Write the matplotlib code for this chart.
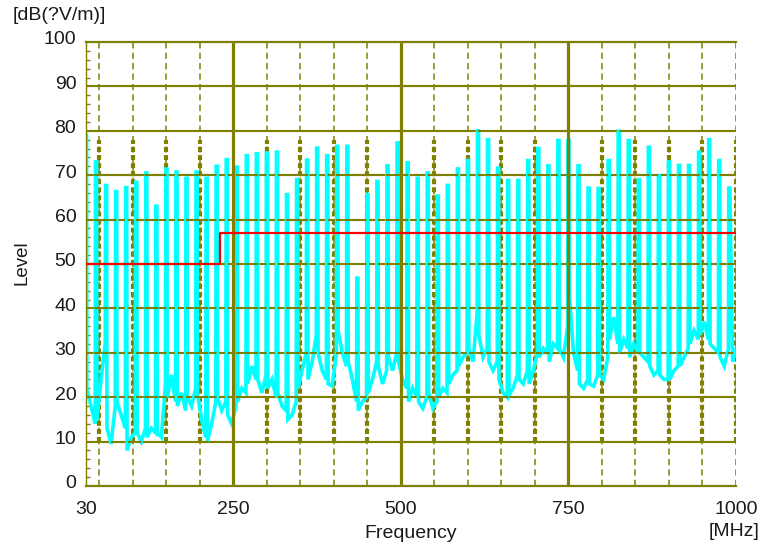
import matplotlib
matplotlib.use("Agg")
import matplotlib.pyplot as plt
from matplotlib.ticker import MultipleLocator
from matplotlib.transforms import ScaledTranslation

# harmonic comb: frequency of each emission line (MHz) and its peak level (dB)
HARM_MHZ = [30, 45, 60, 75, 90, 105, 120, 135, 150, 165, 180, 195, 210, 225,
            240, 255, 270, 285, 300, 315, 330, 345, 360, 375, 390, 405, 420,
            435, 450, 465, 480, 495, 510, 525, 540, 555, 570, 585, 600, 615,
            630, 645, 660, 675, 690, 705, 720, 735, 750, 765, 780, 795, 810,
            825, 840, 855, 870, 885, 900, 915, 930, 945, 960, 975, 990]
PEAK_DB = [79, 73, 67.7, 66.3, 67.2, 68.4, 70.5, 63, 71.4, 70.7, 69.3, 70.7,
           69.3, 72, 73.5, 71.8, 74.4, 74.8, 75, 75.2, 65.6, 69, 73.4, 76.1,
           74.4, 76.5, 76.5, 46.8, 65.6, 68.6, 72.1, 77.3, 72.8, 69.3, 70.5,
           65.3, 67.7, 71.4, 73.3, 80, 78, 71.6, 68.8, 68.8, 73.3, 76, 72.1,
           77.8, 77.8, 72.1, 67.1, 67, 73.3, 79.9, 77.8, 69, 76.3, 69.9, 73,
           72.2, 72.2, 75.2, 78, 73.3, 67.1]

# noise floor between two lines: just after a line, mid-gap, just before the next
FLOOR_A = [22, 15, 13, 19, 8, 12, 11, 12, 20, 18, 20, 21, 10, 20, 16, 19,
           23, 24, 22, 21, 15, 22, 24, 30, 23, 35, 28, 17, 21, 27, 29, 28,
           19, 19, 21, 20, 23, 27, 31, 34, 28, 24, 20.5, 24, 23, 29, 28, 31,
           43, 23, 23, 25, 33, 30, 29, 30, 27, 25, 24, 27, 32, 34, 32, 29]
FLOOR_B = [18, 24, 9.5, 16, 11, 10, 13, 11, 25, 21, 18, 15, 14, 17, 14, 22,
           27, 21, 24, 18, 16, 26, 28, 26, 22.5, 30, 24, 19, 24, 23, 26, 24,
           22, 17.5, 17.5, 22, 25, 29, 28, 29, 26, 21, 22, 23, 26, 31, 32, 29,
           30, 22, 22.5, 24, 38, 33, 32, 29, 25, 24, 26, 29, 35, 37, 31, 27]
FLOOR_C = [14, 32, 18, 13, 12, 13, 12, 23, 19, 17, 22, 11, 19, 19, 18, 21,
           24, 25, 20, 17, 19, 30, 34, 24, 30, 27, 19, 20, 28, 26, 30, 22,
           20, 20, 19, 21, 26, 30, 39, 31, 28, 20, 25, 26, 30, 30, 31, 36,
           26, 24, 25, 29, 32, 31, 30, 28, 26, 24, 27, 31, 33, 33, 30, 31]
TAIL_MHZ = [995, 1000]
TAIL_DB = [28, 31]

# limit line
LIMIT_MHZ = [30, 230, 230, 1000]
LIMIT_DB = [50, 50, 57, 57]

X_TICKS = [30, 250, 500, 750, 1000]
Y_TICKS = list(range(0, 101, 10))
MINOR_GRID = [50, 100, 150, 200, 300, 350, 400, 450, 550, 600, 650, 700,
              800, 850, 900, 950, 1000]
MAJOR_GRID = [250, 500, 750]

OLIVE = "#808000"
TXT = "#1a1a1a"
plt.rcParams["font.family"] = ["Liberation Sans", "DejaVu Sans"]
plt.rcParams["lines.scale_dashes"] = False

fig = plt.figure(figsize=(7.64, 5.48), dpi=100)
ax = fig.add_axes([86 / 764, 62 / 548, 650 / 764, 444 / 548])

# build the trace: a narrow spike at each harmonic, noise floor in between
xs, ys = [], []
for i, (f, p) in enumerate(zip(HARM_MHZ, PEAK_DB)):
    xs += [f - 0.8, f + 0.8]
    ys += [p, p]
    if i < len(FLOOR_A):
        xs += [f + 1.3, f + 7.5, f + 13.7]
        ys += [FLOOR_A[i], FLOOR_B[i], FLOOR_C[i]]
xs += TAIL_MHZ
ys += TAIL_DB
ax.plot(xs, ys, color="#00ffff", lw=2.6, solid_joinstyle="miter",
        solid_capstyle="butt", zorder=2)

# grid: solid rules under the trace, broken overlay on top of it
for v in Y_TICKS[1:-1]:
    ax.axhline(v, color=OLIVE, lw=1.5, zorder=1)
    ax.axhline(v, color=OLIVE, lw=1.5, dashes=(4, 2), zorder=3)
for v in MAJOR_GRID:
    ax.axvline(v, color=OLIVE, lw=2.3, zorder=3)
for v in MINOR_GRID:
    ax.plot([v, v], [0, 100], color=OLIVE, lw=1.1, dashes=(4.5, 3), zorder=1)
    ax.plot([v, v], [10, 78], color=OLIVE, lw=3.0, dashes=(3.6, 2.2), zorder=1)

ax.plot(LIMIT_MHZ, LIMIT_DB, color="red", lw=1.6, zorder=4)

ax.set_xlim(30, 1000)
ax.set_ylim(0, 100)
ax.set_xticks(X_TICKS)
ax.set_yticks(Y_TICKS)
ax.yaxis.set_minor_locator(MultipleLocator(2))
ax.tick_params(axis="both", which="major", length=0, labelsize=14,
               labelcolor=TXT)
ax.tick_params(axis="x", pad=11)
ax.tick_params(axis="y", pad=7)
ax.tick_params(axis="y", which="minor", direction="in", length=3, width=1,
               color=OLIVE, left=True, right=False)

for lab in ax.get_yticklabels():
    lab.set_transform(lab.get_transform() +
                      ScaledTranslation(0, 4 / 100, fig.dpi_scale_trans))

for side in ["top", "bottom"]:
    ax.spines[side].set_color(OLIVE)
    ax.spines[side].set_linewidth(1.6)
ax.spines["left"].set_color(OLIVE)
ax.spines["left"].set_linewidth(1.0)
ax.spines["right"].set_visible(False)

ax.set_xlabel("Frequency", fontsize=14, color=TXT, labelpad=5)
fig.text(760 / 764, 1 - 531 / 548, "[MHz]", fontsize=14, color=TXT,
         ha="right", va="center")
fig.text(13 / 764, 1 - 15 / 548, "[dB(?V/m)]", fontsize=14, color=TXT,
         ha="left", va="center")
fig.text(22 / 764, 1 - 263 / 548, "Level", fontsize=13.5, color=TXT,
         rotation=90, ha="center", va="center")

plt.savefig("out.png", dpi=100)
